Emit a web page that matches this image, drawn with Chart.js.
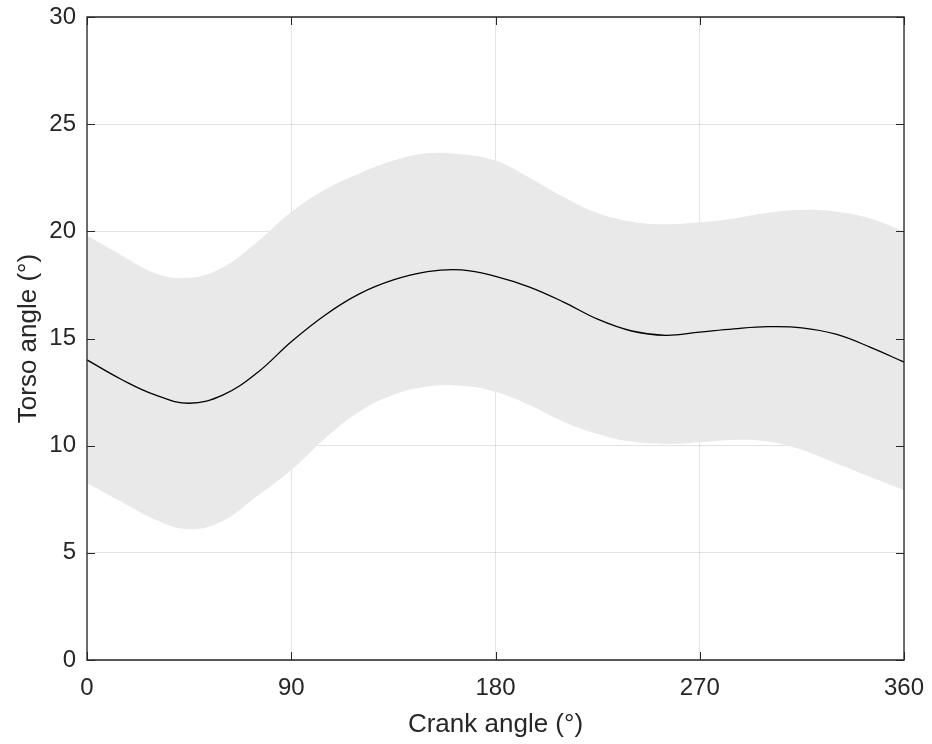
<!DOCTYPE html>
<html>
<head>
<meta charset="utf-8">
<script src="https://cdn.jsdelivr.net/npm/chart.js@4.4.1/dist/chart.umd.min.js"></script>
<style>
html,body{margin:0;padding:0;background:#fff;}
#wrap{width:932px;height:744px;}
</style>
</head>
<body>
<div id="wrap"><canvas id="c" width="932" height="744"></canvas></div>
<script>
const crankAngles = [0,15,30,45,60,75,90,105,120,135,150,165,180,195,210,225,240,255,270,285,300,315,330,345,360];
const meanTorso  = [14.0,13.1,12.37,11.98,12.37,13.4,14.85,16.1,17.08,17.73,18.12,18.2,17.9,17.4,16.7,15.9,15.35,15.15,15.3,15.45,15.55,15.5,15.2,14.6,13.9];
const upperTorso = [19.8,18.9,18.05,17.83,18.33,19.5,20.9,21.95,22.7,23.3,23.64,23.6,23.3,22.5,21.6,20.85,20.45,20.33,20.42,20.6,20.87,21.0,20.92,20.6,20.0];
const lowerTorso = [8.26,7.39,6.55,6.1,6.5,7.65,8.87,10.35,11.59,12.37,12.76,12.8,12.52,11.9,11.12,10.55,10.19,10.08,10.16,10.27,10.19,9.8,9.18,8.55,7.93];
const xTicks = [0,90,180,270,360];
const yTicks = [0,5,10,15,20,25,30];

const toXY = arr => crankAngles.map((a,i)=>({x:a,y:arr[i]}));
const axisColor = '#262626';
const fontFam = '"Liberation Sans", Arial, Helvetica, sans-serif';

const boxPlugin = {
  id:'box',
  afterDraw(chart){
    const {ctx, chartArea:a, scales:{x,y}} = chart;
    ctx.save();
    ctx.strokeStyle = axisColor;
    ctx.lineWidth = 1.3;
    ctx.beginPath();
    ctx.rect(a.left, a.top, a.right-a.left, a.bottom-a.top);
    ctx.stroke();
    const L = 8;
    ctx.lineWidth = 1;
    ctx.beginPath();
    xTicks.forEach(v=>{
      const px = Math.round(x.getPixelForValue(v))+0.5;
      ctx.moveTo(px,a.bottom); ctx.lineTo(px,a.bottom-L);
      ctx.moveTo(px,a.top); ctx.lineTo(px,a.top+L);
    });
    yTicks.forEach(v=>{
      const py = Math.round(y.getPixelForValue(v))+0.5;
      ctx.moveTo(a.left,py); ctx.lineTo(a.left+L,py);
      ctx.moveTo(a.right,py); ctx.lineTo(a.right-L,py);
    });
    ctx.stroke();
    ctx.restore();
  }
};

new Chart(document.getElementById('c'), {
  type:'line',
  data:{
    datasets:[
      {label:'lower', data:toXY(lowerTorso), borderWidth:0, borderColor:'rgba(0,0,0,0)', pointRadius:0, fill:false, tension:0.4, order:3},
      {label:'upper', data:toXY(upperTorso), borderWidth:0, borderColor:'rgba(0,0,0,0)', backgroundColor:'#e9e9e9', pointRadius:0, fill:0, tension:0.4, order:2},
      {label:'mean', data:toXY(meanTorso), borderWidth:1.3, borderColor:'#000', pointRadius:0, fill:false, tension:0.4, order:1}
    ]
  },
  options:{
    responsive:false,
    animation:false,
    layout:{padding:{top:17,right:28,left:0,bottom:0}},
    plugins:{legend:{display:false}, tooltip:{enabled:false}},
    scales:{
      x:{
        type:'linear', min:0, max:360, z:1,
        afterBuildTicks(s){ s.ticks = xTicks.map(v=>({value:v})); },
        afterFit(s){ s.height = 84; s.paddingLeft = 0; s.paddingRight = 0; },
        grid:{color:'rgba(0,0,0,0.11)', drawTicks:false, lineWidth:1},
        border:{display:false},
        ticks:{color:axisColor, font:{family:fontFam,size:24}, padding:14, maxRotation:0},
        title:{display:true, text:'Crank angle (°)', color:axisColor, font:{family:fontFam,size:26}, padding:{top:0,bottom:4}}
      },
      y:{
        type:'linear', min:0, max:30, z:1,
        afterBuildTicks(s){ s.ticks = yTicks.map(v=>({value:v})); },
        afterFit(s){ s.width = 87; s.paddingTop = 0; s.paddingBottom = 0; },
        grid:{color:'rgba(0,0,0,0.11)', drawTicks:false, lineWidth:1},
        border:{display:false},
        ticks:{color:axisColor, font:{family:fontFam,size:24}, padding:11},
        title:{display:true, text:'Torso angle (°)', color:axisColor, font:{family:fontFam,size:26}, padding:{top:13,bottom:0}}
      }
    }
  },
  plugins:[boxPlugin]
});
</script>
</body>
</html>
